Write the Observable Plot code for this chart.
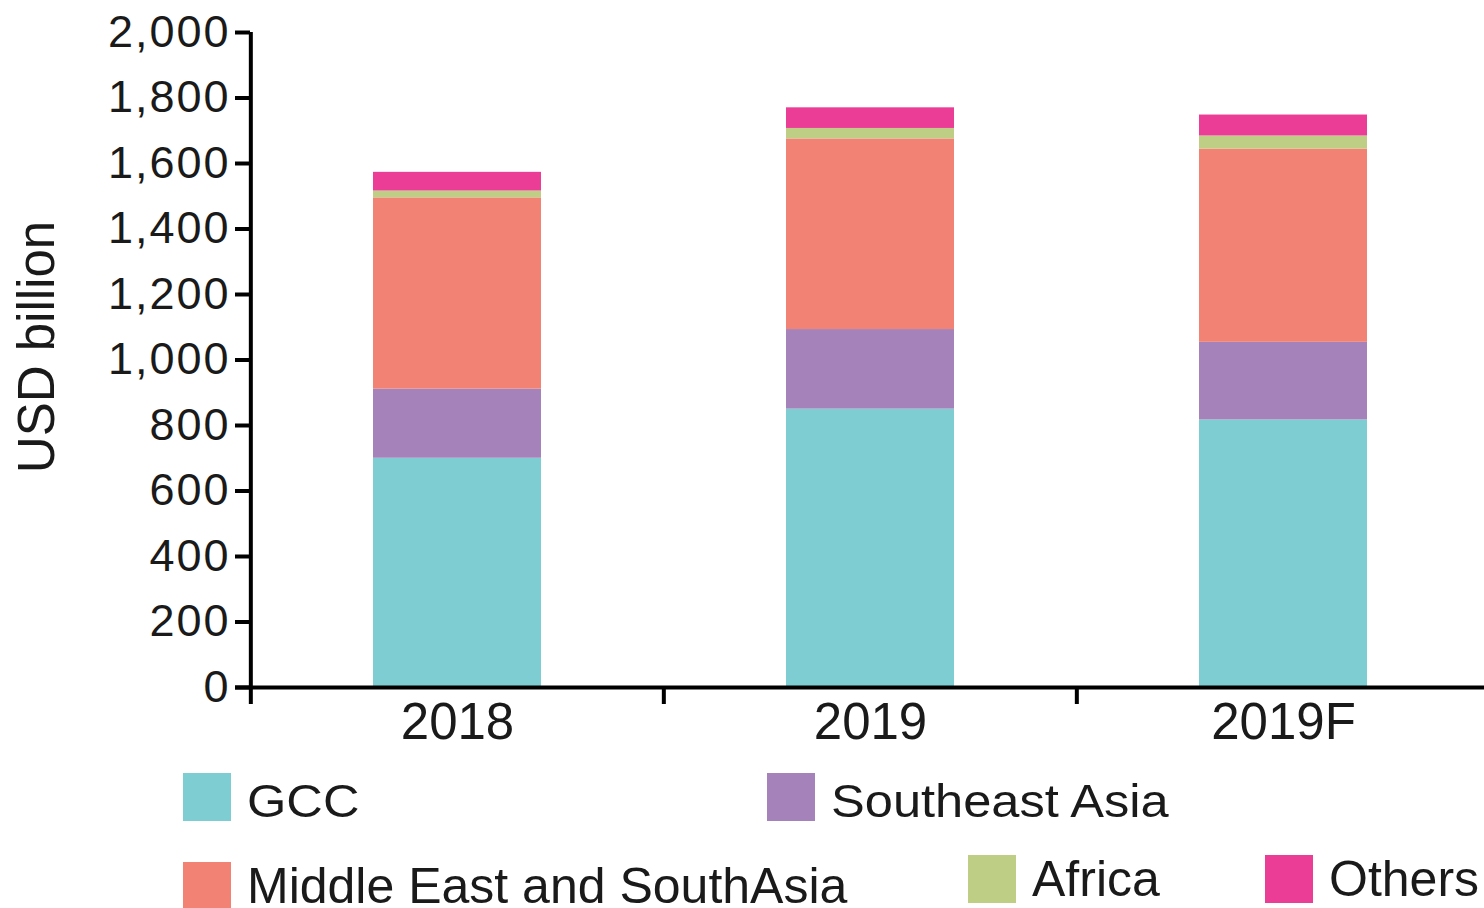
<!DOCTYPE html>
<html><head>
<meta charset="utf-8">
<script src="https://cdn.jsdelivr.net/npm/d3@7"></script>
<script src="https://cdn.jsdelivr.net/npm/@observablehq/plot@0.6"></script>
<style>
body{margin:0;background:#fff;font-family:"Liberation Sans",Arial,sans-serif;}
#wrap{position:relative;width:1484px;height:908px;overflow:hidden;background:#fff;}
#chart{position:absolute;left:0;top:0;}
.item{position:absolute;display:flex;align-items:center;color:#1a1a1a;white-space:nowrap;height:48px;}
.item span.t{display:block;line-height:40px;transform-origin:left center;}
.row1 span.t{font-size:46px;transform:translateY(4px) scaleX(1.1);}
.row2 span.t{font-size:50px;}
.sw{width:48px;height:48px;margin-right:16px;flex:none;}
#ylab{position:absolute;left:37px;top:347px;transform:translate(-50%,-50%) rotate(-90deg);font-size:51px;line-height:44px;color:#1a1a1a;white-space:nowrap;}
#chart g[aria-label="y-axis tick label"]{font-size:45px;letter-spacing:2px;}
</style></head><body>
<div id="wrap"><div id="chart"></div><div id="ylab">USD billion</div></div>
<script>
const years = ["2018", "2019", "2019F"];
const series = ["GCC", "Southeast Asia", "Middle East and SouthAsia", "Africa", "Others"];
const colors = ["#7ECDD3", "#A682BA", "#F28374", "#BFCE85", "#EC3D96"];
const gcc = [700, 850, 817];
const southeastAsia = [211, 243, 237];
const middleEastSouthAsia = [584, 582, 590];
const africa = [21, 32, 40];
const others = [57, 63, 64];
const yTicks = [0, 200, 400, 600, 800, 1000, 1200, 1400, 1600, 1800, 2000];

const valuesBySeries = [gcc, southeastAsia, middleEastSouthAsia, africa, others];
const data = series.flatMap((s, si) => years.map((y, yi) => ({year: y, series: s, value: valuesBySeries[si][yi]})));

const X0 = 250, X1 = 1490;
const step = (X1 - X0) / years.length;

const chart = Plot.plot({
  width: 1484, height: 760,
  marginTop: 32, marginBottom: 73, marginLeft: 250, marginRight: 0,
  style: {fontFamily: "'Liberation Sans', Arial, sans-serif", fontSize: "48px", color: "#1a1a1a", overflow: "visible", background: "transparent"},
  x: {domain: years, range: [X0, X1], paddingInner: 0.593, paddingOuter: 0.2965, label: null, axis: null},
  y: {domain: [0, 2000], label: null, axis: null},
  color: {domain: series, range: colors},
  marks: [
    Plot.barY(data, {x: "year", y: "value", fill: "series", order: series}),
    Plot.ruleY([0], {stroke: "#000", strokeWidth: 4, insetLeft: -15}),
    Plot.ruleX(years, {x: d => d, y1: d => d === years[0] ? 2000 : 0, y2: 0, dx: -step / 2, insetBottom: -17, stroke: "#000", strokeWidth: 4}),
    Plot.axisY({ticks: yTicks, tickFormat: d3.format(","), tickSize: 15, tickPadding: 5, strokeWidth: 4, stroke: "#000", label: null}),
    Plot.axisX({tickSize: 0, tickPadding: 15, fontSize: 51, label: null})
  ]
});
document.getElementById("chart").appendChild(chart);

const legendPos = [[183, 773, 1], [767, 773, 1], [183, 862, 2], [968, 855, 2], [1265, 855, 2]];
const wrap = document.getElementById("wrap");
series.forEach((s, i) => {
  const d = document.createElement("div");
  d.className = "item row" + legendPos[i][2];
  d.style.left = legendPos[i][0] + "px";
  d.style.top = legendPos[i][1] + "px";
  d.innerHTML = `<span class="sw" style="background:${colors[i]}"></span><span class="t">${s}</span>`;
  wrap.appendChild(d);
});
</script>
</body></html>
